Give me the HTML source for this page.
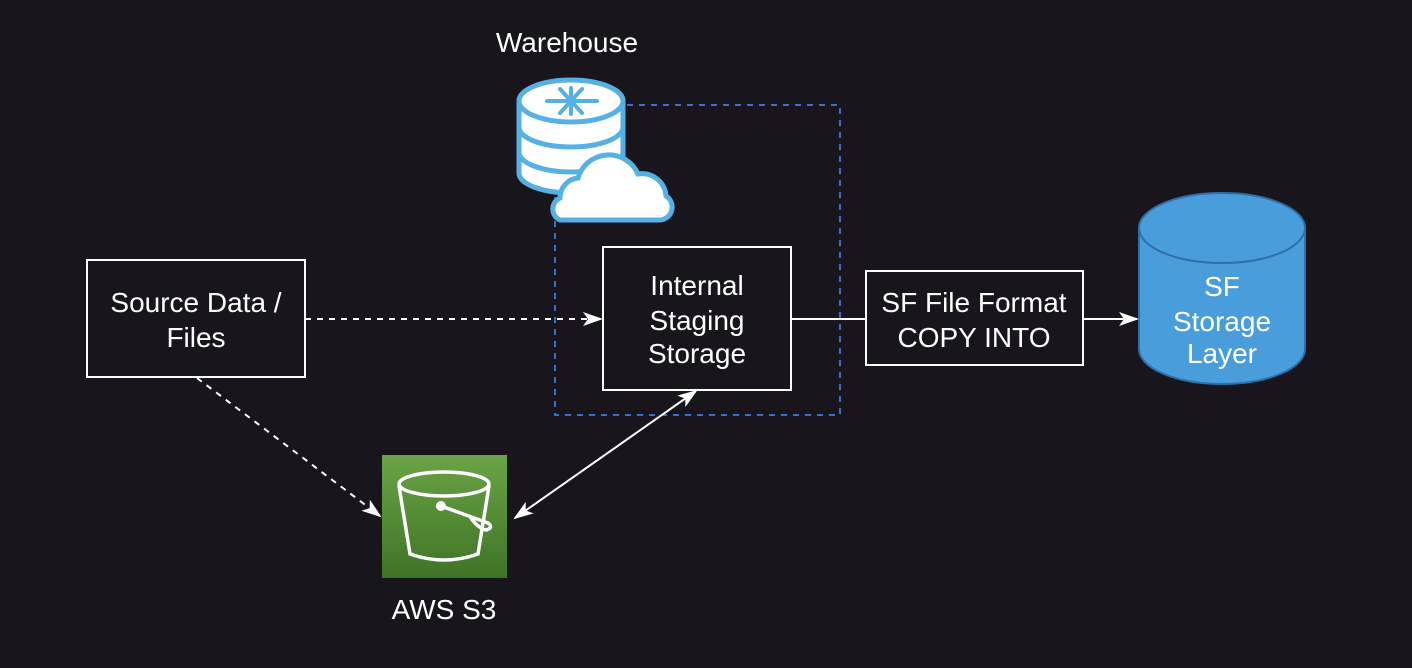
<!DOCTYPE html>
<html><head><style>
body{margin:0;background:#18161c;width:1412px;height:668px;overflow:hidden;font-family:"Liberation Sans",sans-serif}
svg{display:block}
</style></head><body>
<svg width="1412" height="668" viewBox="0 0 1412 668">
<defs>
<marker id="ah2" markerWidth="20" markerHeight="20" refX="18" refY="10" orient="auto-start-reverse" markerUnits="userSpaceOnUse" viewBox="0 0 20 20">
<path d="M0,3 L20,10 L0,17 L5,10 Z" fill="#fff"/></marker>
<linearGradient id="g" x1="0" y1="0" x2="0" y2="1"><stop offset="0" stop-color="#6aa446"/><stop offset="1" stop-color="#3f7326"/></linearGradient>
</defs>
<rect width="1412" height="668" fill="#18161c"/>
<rect x="555" y="105" width="285" height="310" fill="none" stroke="#3a6fd0" stroke-width="2" stroke-dasharray="6,6"/>
<text x="567" y="52" fill="#fff" font-size="28" text-anchor="middle">Warehouse</text>
<g stroke="#56b0e3" stroke-width="5" fill="#fff">
<path d="M519,101 v72 a52,20 0 0 0 104,0 v-72 Z"/>
<ellipse cx="571" cy="101" rx="52" ry="21"/>
<path d="M519,127 a52,20 0 0 0 104,0 M519,152 a52,20 0 0 0 104,0" fill="none"/>
<path d="M560,220 h98 a13,13 0 0 0 8,-24 a24,24 0 0 0 -28,-22 a32,32 0 0 0 -60,4 a20,20 0 0 0 -18,20 a12,12 0 0 0 0,22 Z"/>
</g>
<g stroke="#56b0e3" stroke-width="4" stroke-linecap="round">
<line x1="547" y1="101" x2="597" y2="101"/><line x1="560" y1="89" x2="582" y2="113"/><line x1="582" y1="89" x2="560" y2="113"/>
<line x1="571" y1="88" x2="571" y2="114"/>
</g>
<rect x="87" y="260" width="218" height="117" fill="none" stroke="#fff" stroke-width="2"/>
<text x="196" y="312" fill="#fff" font-size="28" text-anchor="middle">Source Data /</text>
<text x="196" y="347" fill="#fff" font-size="28" text-anchor="middle">Files</text>
<rect x="603" y="247" width="188" height="143" fill="#18161c" stroke="#fff" stroke-width="2"/>
<text x="697" y="295" fill="#fff" font-size="28" text-anchor="middle">Internal</text>
<text x="697" y="330" fill="#fff" font-size="28" text-anchor="middle">Staging</text>
<text x="697" y="363" fill="#fff" font-size="28" text-anchor="middle">Storage</text>
<rect x="866" y="271" width="217" height="94" fill="none" stroke="#fff" stroke-width="2"/>
<text x="974" y="312" fill="#fff" font-size="28" text-anchor="middle">SF File Format</text>
<text x="974" y="347" fill="#fff" font-size="28" text-anchor="middle">COPY INTO</text>
<path d="M1139,228 v121 a83,35 0 0 0 166,0 v-121" fill="#4a9ddb" stroke="#2d6fa8" stroke-width="2"/>
<ellipse cx="1222" cy="228" rx="83" ry="35" fill="#4a9ddb" stroke="#2d6fa8" stroke-width="2"/>
<text x="1222" y="296" fill="#fff" font-size="28" text-anchor="middle">SF</text>
<text x="1222" y="331" fill="#fff" font-size="28" text-anchor="middle">Storage</text>
<text x="1222" y="363" fill="#fff" font-size="28" text-anchor="middle">Layer</text>
<rect x="382" y="455" width="125" height="123" fill="url(#g)"/>
<g stroke="#fff" stroke-width="3.5" fill="none" stroke-linecap="round">
<ellipse cx="444" cy="484" rx="45" ry="12"/>
<path d="M399,486 L410,554 Q444,566 478,554 L489,486"/>
<path d="M441,506 L488,523 Q494,528 486,530 Q478,528 471,518"/>
</g>
<circle cx="441" cy="506" r="5" fill="#fff"/>
<text x="444" y="619" fill="#fff" font-size="28" text-anchor="middle">AWS S3</text>
<line x1="305" y1="319" x2="601" y2="319" stroke="#fff" stroke-width="2" stroke-dasharray="6,6" marker-end="url(#ah2)"/>
<line x1="197" y1="378" x2="380" y2="516" stroke="#fff" stroke-width="2" stroke-dasharray="6,6" marker-end="url(#ah2)"/>
<line x1="515" y1="518" x2="696" y2="391" stroke="#fff" stroke-width="2" marker-start="url(#ah2)" marker-end="url(#ah2)"/>
<line x1="791" y1="319" x2="866" y2="319" stroke="#fff" stroke-width="2"/>
<line x1="1083" y1="319" x2="1137" y2="319" stroke="#fff" stroke-width="2" marker-end="url(#ah2)"/>
</svg>
</body></html>
